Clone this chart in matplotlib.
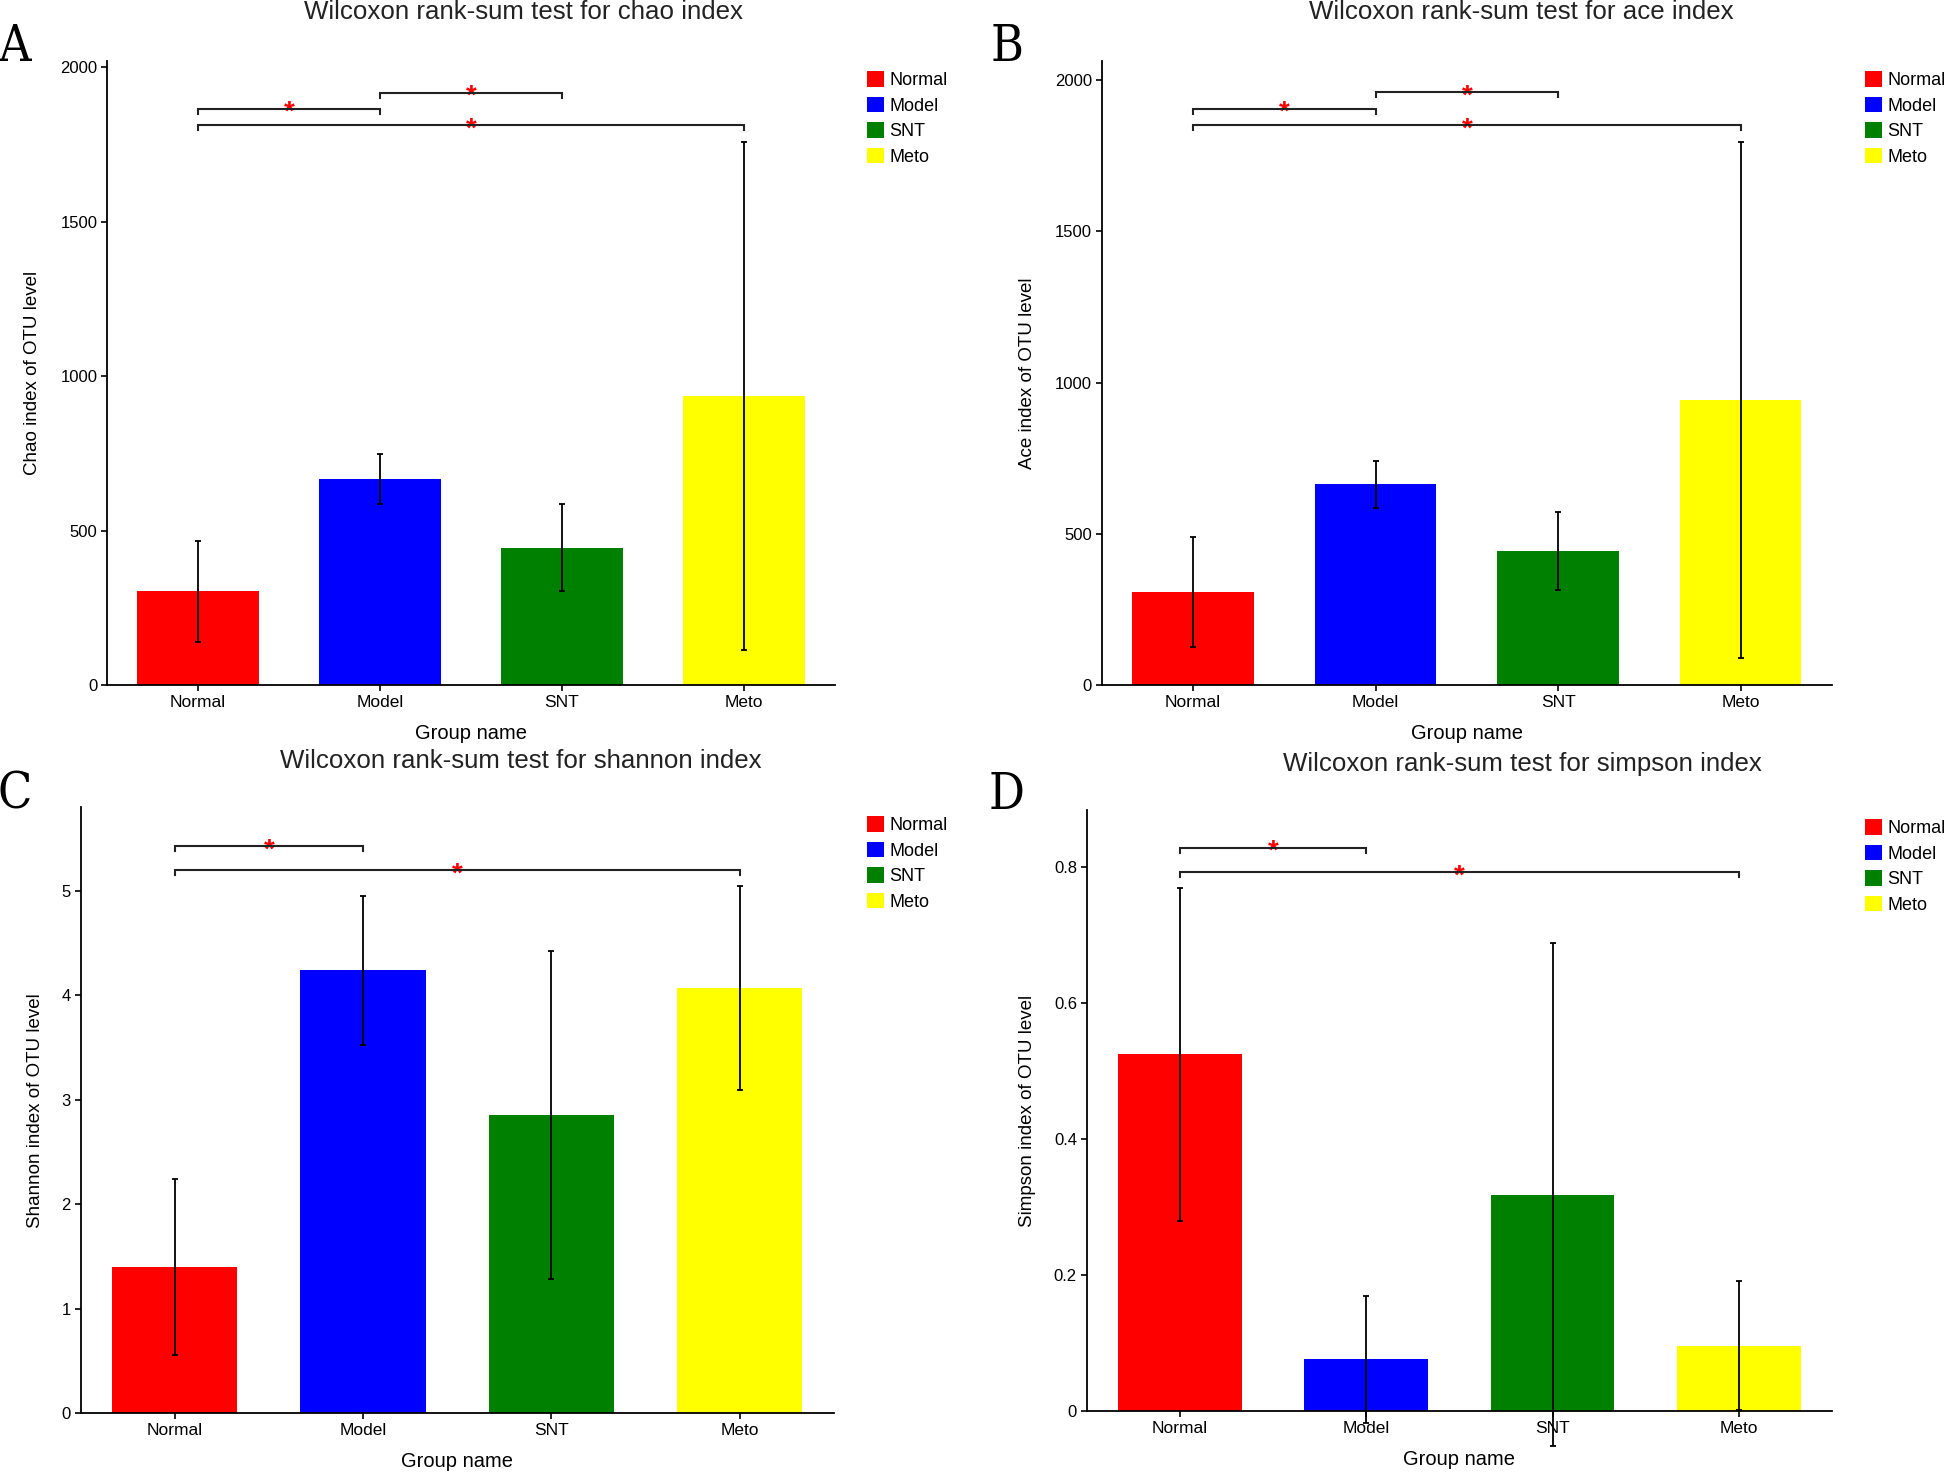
import matplotlib
matplotlib.use("Agg")
import matplotlib.pyplot as plt
import numpy as np

plt.rcParams['font.family'] = ['Liberation Sans', 'DejaVu Sans']

groups = ['Normal', 'Model', 'SNT', 'Meto']
bar_colors = ['#FF0000', '#0000FF', '#008000', '#FFFF00']

chao_mean = [304, 668, 446, 937]
chao_sd = [164, 81, 140, 822]
ace_mean = [308, 664, 443, 943]
ace_sd = [182, 78, 129, 853]
shannon_mean = [1.40, 4.24, 2.85, 4.07]
shannon_sd = [0.845, 0.715, 1.57, 0.975]
simpson_mean = [0.525, 0.076, 0.318, 0.096]
simpson_sd = [0.245, 0.093, 0.370, 0.095]

chao_pairs = [(0, 1, 1865), (1, 2, 1918), (0, 3, 1812)]
ace_pairs = [(0, 1, 1904), (1, 2, 1958), (0, 3, 1850)]
shannon_pairs = [(0, 1, 5.43), (0, 3, 5.20)]
simpson_pairs = [(0, 1, 0.829), (0, 3, 0.793)]

chao_ticks = [0, 500, 1000, 1500, 2000]
ace_ticks = [0, 500, 1000, 1500, 2000]
shannon_ticks = [0, 1, 2, 3, 4, 5]
simpson_ticks = [0, 0.2, 0.4, 0.6, 0.8]

W, H = 1944, 1472
fig = plt.figure(figsize=(W / 100, H / 100), dpi=100)


def fx(x):
    return x / W


def fy(y):
    return 1 - y / H


panels = [
    dict(box=(107, 835, 61, 685.4), ymax=2020, mean=chao_mean, sd=chao_sd, pairs=chao_pairs,
         ticks=chao_ticks, ylabel='Chao index of OTU level', title='Wilcoxon rank-sum test for chao index',
         title_xy=(524, 19), letter='A', letter_xy=(14, 61), legend_xy=(867, 71), ylab_off=74,
         labels=[str(t) for t in chao_ticks]),
    dict(box=(1101.6, 1832, 61, 685.4), ymax=2062, mean=ace_mean, sd=ace_sd, pairs=ace_pairs,
         ticks=ace_ticks, ylabel='Ace index of OTU level', title='Wilcoxon rank-sum test for ace index',
         title_xy=(1521, 19), letter='B', letter_xy=(1007, 61), legend_xy=(1865, 71), ylab_off=74,
         labels=[str(t) for t in ace_ticks]),
    dict(box=(80.6, 834, 807.4, 1413), ymax=5.8, mean=shannon_mean, sd=shannon_sd, pairs=shannon_pairs,
         ticks=shannon_ticks, ylabel='Shannon index of OTU level', title='Wilcoxon rank-sum test for shannon index',
         title_xy=(521, 768), letter='C', letter_xy=(15, 809), legend_xy=(867, 816), ylab_off=45,
         labels=[str(t) for t in shannon_ticks]),
    dict(box=(1086.7, 1832, 810.2, 1411), ymax=0.884, mean=simpson_mean, sd=simpson_sd, pairs=simpson_pairs,
         ticks=simpson_ticks, ylabel='Simpson index of OTU level', title='Wilcoxon rank-sum test for simpson index',
         title_xy=(1522, 771), letter='D', letter_xy=(1007, 809), legend_xy=(1865, 819), ylab_off=59,
         labels=['0', '0.2', '0.4', '0.6', '0.8']),
]

for p in panels:
    l, r, t, b = p['box']
    ax = fig.add_axes([fx(l), fy(b), fx(r - l), (b - t) / H])
    x = np.arange(len(groups))
    bars = ax.bar(x, p['mean'], width=0.665, color=bar_colors, label=groups, zorder=2)
    ax.errorbar(x, p['mean'], yerr=p['sd'], fmt='none', ecolor='black', elinewidth=1.3,
                capsize=2.5, capthick=1.3, zorder=3, clip_on=False)
    ax.set_xlim(-0.5, 3.5)
    ax.set_ylim(0, p['ymax'])
    ax.set_xticks(x)
    ax.set_xticklabels(groups, fontsize=12.5)
    ax.set_yticks(p['ticks'])
    ax.set_yticklabels(p['labels'], fontsize=12)
    for s in ['top', 'right']:
        ax.spines[s].set_visible(False)
    for s in ['left', 'bottom']:
        ax.spines[s].set_linewidth(1.3)
    ax.tick_params(direction='out', length=4, width=1.2, pad=3)
    ax.set_xlabel('Group name', fontsize=14.5, labelpad=10)
    ax.set_ylabel(p['ylabel'], fontsize=13.5, va='center')
    ax.yaxis.set_label_coords(-p['ylab_off'] / (r - l), 0.5)
    # significance brackets
    tick = 5 / (b - t) * p['ymax']
    for (i, j, h) in p['pairs']:
        ax.plot([i, i, j, j], [h - tick, h, h, h - tick], color='#222222', lw=1.5,
                clip_on=False, zorder=4, solid_joinstyle='miter')
        ax.annotate('*', xy=((i + j) / 2, h), xytext=(0, -8), textcoords='offset points',
                    ha='center', va='baseline', color='red', fontsize=20, fontweight='bold',
                    annotation_clip=False)
    lx, ly = p['legend_xy']
    ax.legend(handles=list(bars), labels=groups, loc='upper left',
              bbox_to_anchor=(fx(lx), fy(ly)), bbox_transform=fig.transFigure,
              frameon=False, fontsize=13, handlelength=0.95, handleheight=0.95,
              handletextpad=0.3, labelspacing=0.42, borderaxespad=0, borderpad=0)
    tx, ty = p['title_xy']
    fig.text(fx(tx), fy(ty), p['title'], ha='center', va='baseline', fontsize=18.6, color='#222222')
    lx2, ly2 = p['letter_xy']
    fig.text(fx(lx2), fy(ly2), p['letter'], ha='center', va='baseline', fontsize=36,
             family='DejaVu Serif', stretch='condensed', color='black')

fig.savefig('out.png', dpi=100)
